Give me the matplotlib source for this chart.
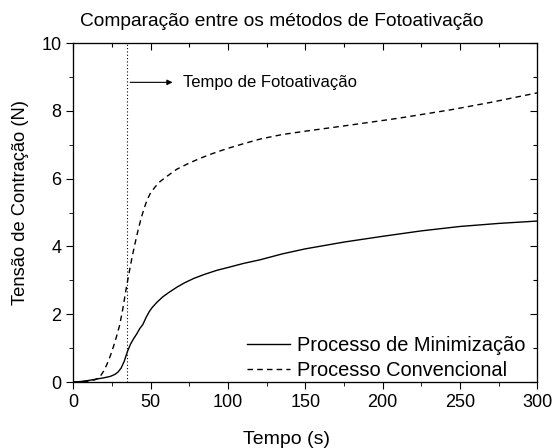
import matplotlib
matplotlib.use("Agg")
import matplotlib.pyplot as plt

plt.rcParams['font.family'] = ['Liberation Sans', 'DejaVu Sans']

# leitura aproximada das curvas
t_min = [0, 5, 10, 15, 20, 24, 27, 29, 31, 33, 35, 37, 39, 41, 43, 45, 47, 49, 51, 54, 58, 62,
         67, 72, 78, 85, 93, 100, 110, 121, 135, 150, 175, 200, 225, 250, 275, 300]
f_min = [0, 0.02, 0.05, 0.09, 0.13, 0.17, 0.23, 0.30, 0.42, 0.62, 0.90, 1.12, 1.28, 1.42, 1.58,
         1.70, 1.90, 2.07, 2.20, 2.35, 2.52, 2.65, 2.80, 2.93, 3.06, 3.18, 3.30, 3.38, 3.50, 3.61,
         3.78, 3.93, 4.13, 4.30, 4.46, 4.59, 4.68, 4.75]

t_conv = [0, 5, 10, 14, 17, 20, 22, 24, 26, 28, 30, 32, 34, 36, 38, 40, 42, 44, 46, 48, 50, 53,
          56, 60, 67, 75, 82, 90, 99, 110, 121, 135, 150, 179, 210, 244, 270, 300]
f_conv = [0, 0.01, 0.03, 0.07, 0.14, 0.35, 0.55, 0.78, 1.05, 1.35, 1.68, 2.15, 2.70, 3.20, 3.68,
          4.10, 4.50, 4.85, 5.15, 5.40, 5.58, 5.76, 5.91, 6.05, 6.28, 6.46, 6.60, 6.74, 6.88, 7.03,
          7.17, 7.30, 7.40, 7.58, 7.78, 8.03, 8.25, 8.53]

t_foto = 35
x_major = [0, 50, 100, 150, 200, 250, 300]
x_minor = [25, 75, 125, 175, 225, 275]
y_major = [0, 2, 4, 6, 8, 10]
y_minor = [1, 3, 5, 7, 9]

fig, ax = plt.subplots(figsize=(5.55, 4.48), dpi=100)
fig.subplots_adjust(left=0.132, right=0.968, top=0.904, bottom=0.147)

ax.plot(t_min, f_min, color='black', lw=1.0, label='Processo de Minimização')
ax.plot(t_conv, f_conv, color='black', lw=1.0, ls=(0, (4, 3)), label='Processo Convencional')
ax.axvline(t_foto, color='black', lw=0.8, ls=(0, (1, 2)))

ax.annotate('', xy=(66, 8.84), xytext=(t_foto, 8.84),
            arrowprops=dict(arrowstyle='-|>', color='black', lw=0.8, mutation_scale=8))
ax.text(71, 8.84, 'Tempo de Fotoativação', fontsize=12, va='center')

ax.set_xlim(0, 300)
ax.set_ylim(0, 10)
ax.set_xticks(x_major)
ax.set_xticks(x_minor, minor=True)
ax.set_yticks(y_major)
ax.set_yticks(y_minor, minor=True)
ax.tick_params(which='both', direction='out', labelsize=13)
ax.tick_params(which='major', length=5)
ax.tick_params(which='minor', length=3)

# ticks espelhados (para dentro) no topo e à direita
axt = ax.twiny()
axt.set_xlim(0, 300)
axt.set_xticks(x_major)
axt.set_xticks(x_minor, minor=True)
axt.xaxis.set_ticks_position('top')
axt.tick_params(axis='x', which='major', direction='in', top=True, bottom=False,
                labeltop=False, length=5, width=0.8, color='black')
axt.tick_params(axis='x', which='minor', direction='in', top=True, bottom=False,
                labeltop=False, length=3, width=0.8, color='black')

axr = ax.twinx()
axr.set_ylim(0, 10)
axr.set_yticks(y_major)
axr.set_yticks(y_minor, minor=True)
axr.yaxis.set_ticks_position('right')
axr.tick_params(axis='y', which='major', direction='in', right=True, left=False,
                labelright=False, length=5, width=0.8, color='black')
axr.tick_params(axis='y', which='minor', direction='in', right=True, left=False,
                labelright=False, length=3, width=0.8, color='black')

ax.set_xlabel('Tempo (s)', fontsize=14)
ax.xaxis.set_label_coords(0.46, -0.145)
ax.set_ylabel('Tensão de Contração (N)', fontsize=13.2)
ax.yaxis.set_label_coords(-0.095, 0.531)
fig.suptitle('Comparação entre os métodos de Fotoativação', fontsize=13.8, x=0.508, y=0.972)

ax.legend(loc='lower right', frameon=False, fontsize=14.4, handlelength=2.15,
          handletextpad=0.35, borderaxespad=0.0, labelspacing=0.3,
          bbox_to_anchor=(0.992, -0.018))

fig.savefig('out.png', dpi=100)
